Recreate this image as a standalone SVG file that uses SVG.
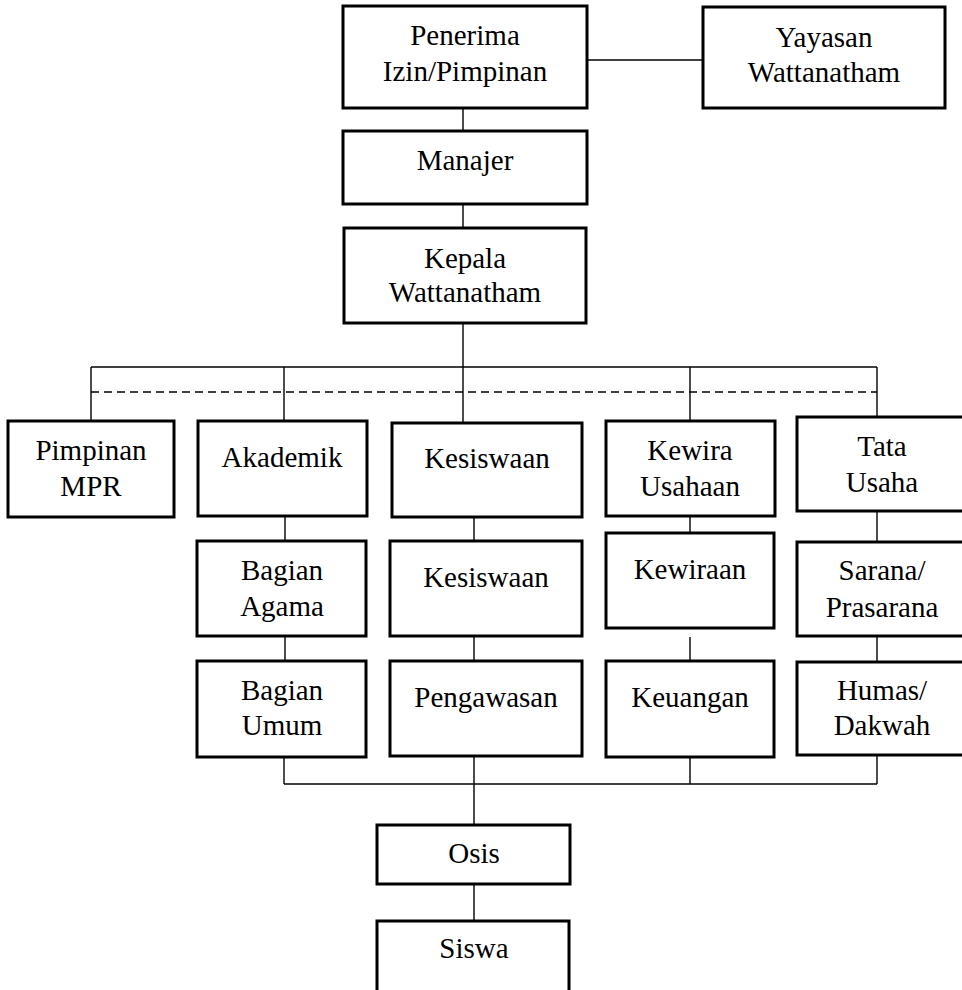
<svg xmlns="http://www.w3.org/2000/svg" width="962" height="990" viewBox="0 0 962 990">
<style>
.box{fill:#fff;stroke:#000;stroke-width:3}
.ln{fill:none;stroke:#000;stroke-width:1.4}
.dash{fill:none;stroke:#000;stroke-width:1.6;stroke-dasharray:8 5}
text{font-family:"Liberation Serif","Times New Roman",serif;font-size:29px;fill:#000;text-anchor:middle}
</style>
<rect width="962" height="990" fill="#fff"/>
<g id="connectors">
<line class="ln" x1="587" y1="60" x2="703" y2="60"/>
<line class="ln" x1="463" y1="108" x2="463" y2="131"/>
<line class="ln" x1="463" y1="204" x2="463" y2="228"/>
<line class="ln" x1="463" y1="323" x2="463" y2="423"/>
<line class="ln" x1="91" y1="367" x2="877" y2="367"/>
<line class="dash" x1="91" y1="392" x2="877" y2="392"/>
<line class="ln" x1="91" y1="367" x2="91" y2="421"/>
<line class="ln" x1="284" y1="367" x2="284" y2="421"/>
<line class="ln" x1="690" y1="367" x2="690" y2="421"/>
<line class="ln" x1="877" y1="367" x2="877" y2="417"/>
<line class="ln" x1="285" y1="516" x2="285" y2="541"/>
<line class="ln" x1="285" y1="636" x2="285" y2="661"/>
<line class="ln" x1="474" y1="517" x2="474" y2="541"/>
<line class="ln" x1="474" y1="636" x2="474" y2="661"/>
<line class="ln" x1="690" y1="516" x2="690" y2="540"/>
<line class="ln" x1="690" y1="637" x2="690" y2="661"/>
<line class="ln" x1="877" y1="511" x2="877" y2="542"/>
<line class="ln" x1="877" y1="636" x2="877" y2="662"/>
<line class="ln" x1="284" y1="757" x2="284" y2="784"/>
<line class="ln" x1="474" y1="757" x2="474" y2="784"/>
<line class="ln" x1="690" y1="757" x2="690" y2="784"/>
<line class="ln" x1="877" y1="755" x2="877" y2="784"/>
<line class="ln" x1="284" y1="784" x2="877" y2="784"/>
<line class="ln" x1="474" y1="784" x2="474" y2="825"/>
<line class="ln" x1="474" y1="884" x2="474" y2="921"/>
</g>
<g id="penerima"><rect class="box" x="343" y="6" width="244" height="102"/><text x="465" y="45">Penerima</text><text x="465" y="81">Izin/Pimpinan</text></g>
<g id="yayasan"><rect class="box" x="703" y="7" width="242" height="101"/><text x="824" y="47">Yayasan</text><text x="824" y="82">Wattanatham</text></g>
<g id="manajer"><rect class="box" x="343" y="131" width="244" height="73"/><text x="465" y="170">Manajer</text></g>
<g id="kepala"><rect class="box" x="344" y="228" width="242" height="95"/><text x="465" y="268">Kepala</text><text x="465" y="302">Wattanatham</text></g>
<g id="pimpinan-mpr"><rect class="box" x="8" y="421" width="166" height="96"/><text x="91" y="460">Pimpinan</text><text x="91" y="496">MPR</text></g>
<g id="akademik"><rect class="box" x="198" y="421" width="169" height="95"/><text x="282" y="467">Akademik</text></g>
<g id="kesiswaan-1"><rect class="box" x="392" y="423" width="190" height="94"/><text x="487" y="468">Kesiswaan</text></g>
<g id="kewira-usahaan"><rect class="box" x="606" y="421" width="169" height="95"/><text x="690" y="460">Kewira</text><text x="690" y="496">Usahaan</text></g>
<g id="tata-usaha"><rect class="box" x="797" y="417" width="170" height="94"/><text x="882" y="456">Tata</text><text x="882" y="492">Usaha</text></g>
<g id="bagian-agama"><rect class="box" x="197" y="541" width="169" height="95"/><text x="282" y="580">Bagian</text><text x="282" y="616">Agama</text></g>
<g id="kesiswaan-2"><rect class="box" x="390" y="541" width="192" height="95"/><text x="486" y="587">Kesiswaan</text></g>
<g id="kewiraan"><rect class="box" x="606" y="533" width="168" height="95"/><text x="690" y="579">Kewiraan</text></g>
<g id="sarana"><rect class="box" x="797" y="542" width="170" height="94"/><text x="882" y="580">Sarana/</text><text x="882" y="617">Prasarana</text></g>
<g id="bagian-umum"><rect class="box" x="197" y="661" width="169" height="96"/><text x="282" y="700">Bagian</text><text x="282" y="735">Umum</text></g>
<g id="pengawasan"><rect class="box" x="390" y="661" width="192" height="95"/><text x="486" y="707">Pengawasan</text></g>
<g id="keuangan"><rect class="box" x="606" y="661" width="168" height="96"/><text x="690" y="707">Keuangan</text></g>
<g id="humas"><rect class="box" x="797" y="662" width="170" height="93"/><text x="882" y="700">Humas/</text><text x="882" y="735">Dakwah</text></g>
<g id="osis"><rect class="box" x="377" y="825" width="193" height="59"/><text x="474" y="863">Osis</text></g>
<g id="siswa"><rect class="box" x="377" y="921" width="192" height="80"/><text x="474" y="958">Siswa</text></g>
</svg>
